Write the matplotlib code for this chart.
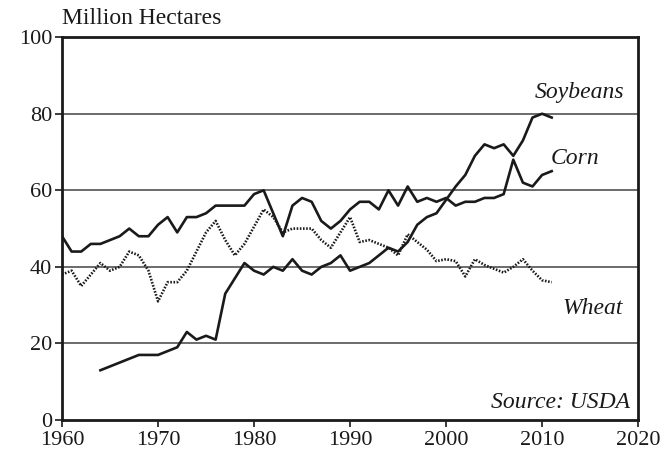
import numpy as np
import matplotlib
matplotlib.use('Agg')
import matplotlib.pyplot as plt

# values (million hectares)
years = list(range(1960, 2012))

corn = [48, 44, 44, 46, 46, 47, 48, 50, 48, 48,
        51, 53, 49, 53, 53, 54, 56, 56, 56, 56,
        59, 60, 54, 48, 56, 58, 57, 52, 50, 52,
        55, 57, 57, 55, 60, 56, 61, 57, 58, 57,
        58, 56, 57, 57, 58, 58, 59, 68, 62, 61,
        64, 65]

soy_years = list(range(1964, 2012))
soybeans = [13, 14, 15, 16, 17, 17,
            17, 18, 19, 23, 21, 22, 21, 33, 37, 41,
            39, 38, 40, 39, 42, 39, 38, 40, 41, 43,
            39, 40, 41, 43, 45, 44, 46.5, 51, 53, 54,
            57.5, 61, 64, 69, 72, 71, 72, 69, 73, 79,
            80, 79]

wheat = [38, 39, 35, 38, 41, 39, 40, 44, 43, 39,
         31, 36, 36, 39, 44, 49, 52, 47, 43, 46,
         50.5, 55, 53, 49, 50, 50, 50, 47, 45, 49,
         53, 46.5, 47, 46, 45, 43, 48.5, 46.5, 44.5, 41.5,
         42, 41.5, 37.5, 42, 40.5, 39.5, 38.5, 40, 42, 39,
         36.5, 36]

xticks = [1960, 1970, 1980, 1990, 2000, 2010, 2020]
yticks = [0, 20, 40, 60, 80, 100]

plt.rcParams['font.family'] = ['Liberation Serif', 'DejaVu Serif']

fig = plt.figure(figsize=(6.64, 4.53), dpi=100)
ax = fig.add_axes([0.0934, 0.0728, 0.8676, 0.8452])

for y in [20, 40, 60, 80]:
    ax.axhline(y, color='#444444', lw=1.1, zorder=1)

ax.plot(years, corn, color='#1a1a1a', lw=1.9, zorder=3)
ax.plot(soy_years, soybeans, color='#1a1a1a', lw=1.9, zorder=3)
ax.plot(years, wheat, color='#1a1a1a', lw=1.9, ls=(0, (0.6, 0.6)), zorder=2)

ax.set_xlim(1960, 2020)
ax.set_ylim(0, 100)
ax.set_xticks(xticks)
ax.set_yticks(yticks)
ax.tick_params(direction='out', length=5, width=1.2, labelsize=16,
               colors='#1a1a1a')
ax.tick_params(axis='x', pad=3)
ax.tick_params(axis='y', pad=2)
for s in ax.spines.values():
    s.set_linewidth(2.0)
    s.set_color('#1a1a1a')

ax.text(2018.6, 85.5, 'Soybeans', style='italic', fontsize=17,
        ha='right', va='center', color='#1a1a1a')
ax.text(2016.0, 68.4, 'Corn', style='italic', fontsize=17,
        ha='right', va='center', color='#1a1a1a')
ax.text(2018.4, 29.2, 'Wheat', style='italic', fontsize=17,
        ha='right', va='center', color='#1a1a1a')
ax.text(2019.2, 4.6, 'Source: USDA', style='italic', fontsize=17,
        ha='right', va='center', color='#1a1a1a')
fig.text(0.094, 0.935, 'Million Hectares', fontsize=17, ha='left',
         va='bottom', color='#1a1a1a')

fig.savefig('out.png', dpi=100)
